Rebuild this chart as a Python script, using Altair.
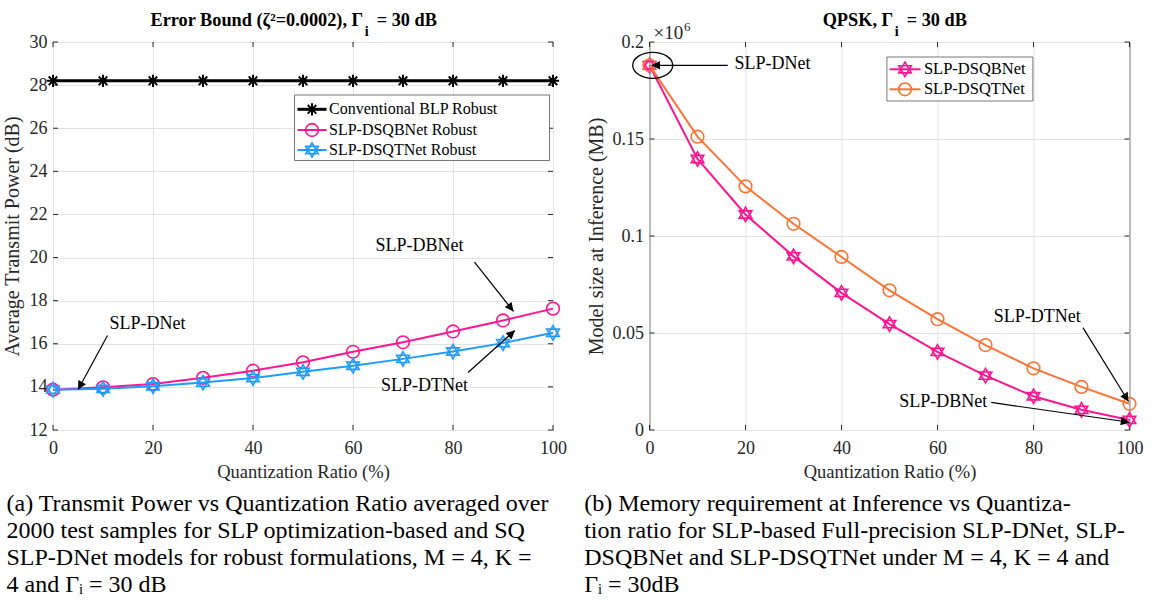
import math
import altair as alt
import pandas as pd

# ---------------- data ----------------
ratio = [0, 10, 20, 30, 40, 50, 60, 70, 80, 90, 100]
conv_blp_robust = [28.2, 28.2, 28.2, 28.2, 28.2, 28.2, 28.2, 28.2, 28.2, 28.2, 28.2]
dsqbnet_robust = [13.87, 13.98, 14.13, 14.42, 14.75, 15.14, 15.63, 16.07, 16.57, 17.08, 17.63]
dsqtnet_robust = [13.87, 13.91, 14.03, 14.20, 14.41, 14.70, 14.98, 15.30, 15.64, 16.03, 16.51]
mem_dsqbnet = [0.188, 0.1397, 0.1111, 0.0895, 0.0707, 0.0546, 0.0403, 0.0280, 0.0174, 0.0104, 0.0052]
mem_dsqtnet = [0.188, 0.1512, 0.1256, 0.1063, 0.0892, 0.0720, 0.0571, 0.0438, 0.0318, 0.0222, 0.0135]

x_ticks = [0, 20, 40, 60, 80, 100]
power_ticks = [12, 14, 16, 18, 20, 22, 24, 26, 28, 30]
memory_ticks = [0, 0.05, 0.1, 0.15, 0.2]

# title pieces: main text (ending with Γ), subscript, remainder
left_title = ["Error Bound (ζ²=0.0002), Γ", "i", "= 30 dB"]
right_title = ["QPSK, Γ", "i", "= 30 dB"]
x_title = "Quantization Ratio (%)"
left_y_title = "Average Transmit Power (dB)"
right_y_title = "Model size at Inference (MB)"
left_legend = ["Conventional BLP Robust", "SLP-DSQBNet Robust", "SLP-DSQTNet Robust"]
right_legend = ["SLP-DSQBNet", "SLP-DSQTNet"]

left_note_text = ["SLP-DNet", "SLP-DBNet", "SLP-DTNet"]
left_note_x = [18.9, 73.3, 74.3]
left_note_y = [16.94, 20.54, 14.05]
left_arrow_x0 = [10.9, 84.3, 83.0]
left_arrow_y0 = [16.38, 19.79, 14.67]
left_arrow_x1 = [5.0, 92.1, 92.4]
left_arrow_y1 = [13.87, 17.5, 16.62]

right_note_text = ["SLP-DNet", "SLP-DTNet", "SLP-DBNet"]
right_note_x = [25.6, 80.8, 61.2]
right_note_y = [0.1887, 0.058, 0.0142]
right_arrow_x0 = [16.3, 90.3, 71.2]
right_arrow_y0 = [0.188, 0.0528, 0.0142]
right_arrow_x1 = [0.4, 99.8, 100.0]
right_arrow_y1 = [0.188, 0.0147, 0.004]
right_circle_x = [0.67]
right_circle_y = [0.188]

caption_a = [
    "(a) Transmit Power vs Quantization Ratio averaged over",
    "2000 test samples for SLP optimization-based and SQ",
    "SLP-DNet models for robust formulations, M = 4, K =",
    "4 and Γᵢ = 30 dB",
]
caption_b = [
    "(b) Memory requirement at Inference vs Quantiza-",
    "tion ratio for SLP-based Full-precision SLP-DNet, SLP-",
    "DSQBNet and SLP-DSQTNet under M = 4, K = 4 and",
    "Γᵢ = 30dB",
]

# ---------------- style ----------------
FONT = "Liberation Serif"
INK = "#262626"
PINK = "#ff1493"
BLUE = "#1e9bff"
ORANGE = "#ff7230"
W1, W2, H = 500, 480, 388

ASTERISK = "M-1,0H1M0,-1V1M-0.7,-0.7L0.7,0.7M-0.7,0.7L0.7,-0.7"
HEXAGRAM = "M0,-1L0.866,0.5L-0.866,0.5ZM0,1L0.866,-0.5L-0.866,-0.5Z"
ARROWHEAD = "M0,0L-0.5,1L0.5,1Z"
ELLIPSE = "M-1,0A1,0.65 0 1,1 1,0A1,0.65 0 1,1 -1,0Z"

ONE = alt.Data(values=[{}])


def make_axis(values, title, fmt=None, label_pad=8, title_pad=8, title_size=18.5):
    kw = dict(values=values, title=title, grid=True, gridColor="#e3e3e3", gridWidth=1,
              domain=False, ticks=False, labelFont=FONT, labelFontSize=18, labelColor=INK,
              labelFlush=False, labelOverlap=False,
              titleFont=FONT, titleFontSize=title_size, titleFontWeight="normal", titleColor=INK,
              labelPadding=label_pad, titlePadding=title_pad)
    if fmt:
        kw["format"] = fmt
    return alt.Axis(**kw)


X_SCALE = alt.Scale(domain=[0, 100], nice=False, zero=False)
YL_SCALE = alt.Scale(domain=[12, 30], nice=False, zero=False)
YR_SCALE = alt.Scale(domain=[0, 0.2], nice=False, zero=False)
X_AXIS = make_axis(x_ticks, x_title, label_pad=9, title_pad=5)
YL_AXIS = make_axis(power_ticks, left_y_title, label_pad=6, title_pad=7, title_size=20)
YR_AXIS = make_axis(memory_ticks, right_y_title, fmt="~g", label_pad=6, title_pad=6, title_size=20)


def txt(s, x, y, size, align="left", baseline="alphabetic", weight="normal", color="black", lh=None):
    kw = dict(font=FONT, fontSize=size, fontWeight=weight, color=color, align=align, baseline=baseline)
    if lh:
        kw["lineHeight"] = lh
    return alt.Chart(ONE).mark_text(**kw).encode(x=alt.value(x), y=alt.value(y), text=alt.value(s))


def title_layers(pieces, gamma_end):
    return [
        txt(pieces[0], gamma_end, -16, 18.3, align="right", weight="bold"),
        txt(pieces[1], gamma_end + 1.5, -6.5, 14, weight="bold"),
        txt(pieces[2], gamma_end + 13.5, -16, 18.3, weight="bold"),
    ]


def arrow_frame(x0, y0, x1, y1, px_x, px_y):
    ang = []
    for a, b, c, d in zip(x0, y0, x1, y1):
        dx = (c - a) * px_x
        dy = -(d - b) * px_y
        ang.append(math.degrees(math.atan2(dx, -dy)) % 360)
    return pd.DataFrame(dict(x0=x0, y0=y0, x1=x1, y1=y1, ang=ang))


def legend_layers(box, rows, line_x, marker_x, text_x, font_size=16):
    layers = [alt.Chart(ONE).mark_rect(fill="white", stroke="#555555", strokeWidth=0.8).encode(
        x=alt.value(box[0]), x2=alt.value(box[2]), y=alt.value(box[1]), y2=alt.value(box[3]))]
    for label, color, lw, marks, y in rows:
        layers.append(alt.Chart(ONE).mark_rule(color=color, strokeWidth=lw).encode(
            x=alt.value(line_x[0]), x2=alt.value(line_x[1]), y=alt.value(y)))
        for shape, size, sw in marks:
            layers.append(alt.Chart(ONE).mark_point(shape=shape, filled=False, size=size,
                                                    strokeWidth=sw, color=color, opacity=1).encode(
                x=alt.value(marker_x), y=alt.value(y)))
        layers.append(txt(label, text_x, y, font_size, baseline="middle"))
    return layers


def panel_ticks(yenc_fn, xenc_fn, yticks, width):
    tx = pd.DataFrame({"t": x_ticks})
    ty = pd.DataFrame({"t": yticks})
    rule = dict(color=INK, strokeWidth=1)
    return [
        alt.Chart(tx).mark_rule(**rule).encode(x=xenc_fn("t"), y=alt.value(H), y2=alt.value(H - 5)),
        alt.Chart(tx).mark_rule(**rule).encode(x=xenc_fn("t"), y=alt.value(0), y2=alt.value(5)),
        alt.Chart(ty).mark_rule(**rule).encode(y=yenc_fn("t"), x=alt.value(0), x2=alt.value(5)),
        alt.Chart(ty).mark_rule(**rule).encode(y=yenc_fn("t"), x=alt.value(width), x2=alt.value(width - 5)),
    ]


# ---------------- left panel ----------------
def lx(f):
    return alt.X(f"{f}:Q", scale=X_SCALE, axis=X_AXIS)


def ly(f):
    return alt.Y(f"{f}:Q", scale=YL_SCALE, axis=YL_AXIS)


df_left = pd.DataFrame({"ratio": ratio, "blp": conv_blp_robust, "qb": dsqbnet_robust, "qt": dsqtnet_robust})
bl = alt.Chart(df_left)
left_layers = [
    # white corner anchor fixing the page's top-left origin
    alt.Chart(ONE).mark_rule(color="white", strokeWidth=0.1).encode(
        x=alt.value(-51.5), x2=alt.value(-50.5), y=alt.value(-41)),
]
left_layers += panel_ticks(ly, lx, power_ticks, W1)
left_layers += [
    bl.mark_line(color="black", strokeWidth=3).encode(x=lx("ratio"), y=ly("blp")),
    bl.mark_point(shape=ASTERISK, filled=False, size=150, strokeWidth=2, color="black", opacity=1).encode(
        x=lx("ratio"), y=ly("blp")),
    bl.mark_line(color=PINK, strokeWidth=2).encode(x=lx("ratio"), y=ly("qb")),
    bl.mark_point(shape="circle", filled=False, size=160, strokeWidth=1.6, color=PINK, opacity=1).encode(
        x=lx("ratio"), y=ly("qb")),
    bl.mark_line(color=BLUE, strokeWidth=2).encode(x=lx("ratio"), y=ly("qt")),
    bl.mark_point(shape=HEXAGRAM, filled=False, size=210, strokeWidth=1.6, color=BLUE, opacity=1).encode(
        x=lx("ratio"), y=ly("qt")),
]
la = arrow_frame(left_arrow_x0, left_arrow_y0, left_arrow_x1, left_arrow_y1, W1 / 100, H / 18)
left_layers += [
    alt.Chart(la).mark_rule(color="black", strokeWidth=1.2).encode(
        x=lx("x0"), y=ly("y0"), x2=alt.X2("x1"), y2=alt.Y2("y1")),
    alt.Chart(la).mark_point(shape=ARROWHEAD, filled=True, size=300, color="black", opacity=1).encode(
        x=lx("x1"), y=ly("y1"), angle=alt.Angle("ang:Q", scale=None)),
    alt.Chart(pd.DataFrame({"t": left_note_text, "x": left_note_x, "y": left_note_y})).mark_text(
        font=FONT, fontSize=18, color="black").encode(x=lx("x"), y=ly("y"), text="t:N"),
]
left_layers += legend_layers(
    (241.5, 53, 496.5, 118.5),
    [
        (left_legend[0], "black", 3, [(ASTERISK, 150, 2)], 67.3),
        (left_legend[1], PINK, 2, [("circle", 160, 1.6)], 88),
        (left_legend[2], BLUE, 2, [(HEXAGRAM, 210, 1.6)], 108),
    ],
    (244.5, 273.5), 259, 276,
)
left_layers += title_layers(left_title, 310.2)
left_layers.append(txt(caption_a, -46.5, 450, 24, baseline="top", lh=27))
left = alt.layer(*left_layers).properties(width=W1, height=H)


# ---------------- right panel ----------------
def rx(f):
    return alt.X(f"{f}:Q", scale=X_SCALE, axis=X_AXIS)


def ry(f):
    return alt.Y(f"{f}:Q", scale=YR_SCALE, axis=YR_AXIS)


df_right = pd.DataFrame({"ratio": ratio, "qb": mem_dsqbnet, "qt": mem_dsqtnet})
br = alt.Chart(df_right)
right_layers = panel_ticks(ry, rx, memory_ticks, W2)
right_layers += [
    br.mark_line(color=PINK, strokeWidth=2).encode(x=rx("ratio"), y=ry("qb")),
    br.mark_point(shape=HEXAGRAM, filled=False, size=210, strokeWidth=1.6, color=PINK, opacity=1).encode(
        x=rx("ratio"), y=ry("qb")),
    br.mark_line(color=ORANGE, strokeWidth=2).encode(x=rx("ratio"), y=ry("qt")),
    br.mark_point(shape="circle", filled=False, size=160, strokeWidth=1.6, color=ORANGE, opacity=1).encode(
        x=rx("ratio"), y=ry("qt")),
]
ra = arrow_frame(right_arrow_x0, right_arrow_y0, right_arrow_x1, right_arrow_y1, W2 / 100, H / 0.2)
right_layers += [
    alt.Chart(ra).mark_rule(color="black", strokeWidth=1.2).encode(
        x=rx("x0"), y=ry("y0"), x2=alt.X2("x1"), y2=alt.Y2("y1")),
    alt.Chart(ra).mark_point(shape=ARROWHEAD, filled=True, size=300, color="black", opacity=1).encode(
        x=rx("x1"), y=ry("y1"), angle=alt.Angle("ang:Q", scale=None)),
    alt.Chart(pd.DataFrame({"x": right_circle_x, "y": right_circle_y})).mark_point(
        shape=ELLIPSE, filled=False, size=1600, strokeWidth=1.3, color="black", opacity=1).encode(
        x=rx("x"), y=ry("y")),
    alt.Chart(pd.DataFrame({"t": right_note_text, "x": right_note_x, "y": right_note_y})).mark_text(
        font=FONT, fontSize=18, color="black").encode(x=rx("x"), y=ry("y"), text="t:N"),
    txt("×10", 4, -3, 19, color=INK),
    txt("6", 34.5, -11, 13, color=INK),
]
right_layers += legend_layers(
    (237.4, 15, 383.4, 59),
    [
        (right_legend[0], PINK, 2, [(HEXAGRAM, 210, 1.6)], 27.3),
        (right_legend[1], ORANGE, 2, [("circle", 160, 1.6)], 47.3),
    ],
    (240, 271), 255.5, 274.4, font_size=16.5,
)
right_layers += title_layers(right_title, 243.7)
right_layers.append(txt(caption_b, -65.3, 450, 24, baseline="top", lh=27))
right = alt.layer(*right_layers).properties(width=W2, height=H)

chart = alt.hconcat(left, right, spacing=96.5, bounds="flush").configure(
    font=FONT, background="white").configure_view(stroke=INK, strokeWidth=1).properties(padding=0)

chart.save("out.html", embed_options={"renderer": "svg", "actions": False})
